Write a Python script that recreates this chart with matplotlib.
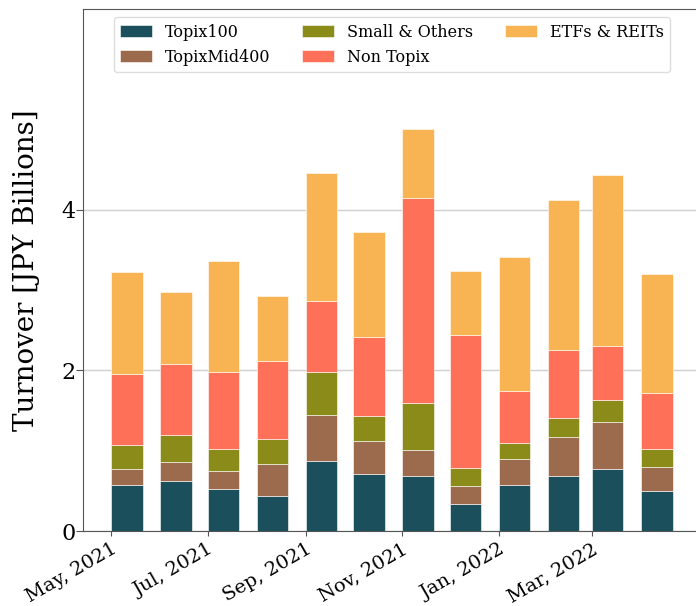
import datetime as dt
import matplotlib
matplotlib.use("Agg")
import matplotlib.pyplot as plt
import matplotlib.dates as mdates

months = [dt.datetime(2021, m, 1) for m in range(5, 13)] + \
         [dt.datetime(2022, m, 1) for m in range(1, 5)]

topix100 = [0.57, 0.62, 0.52, 0.43, 0.87, 0.71, 0.68, 0.34, 0.57, 0.69, 0.77, 0.50]
mid400 = [0.20, 0.24, 0.23, 0.40, 0.58, 0.41, 0.33, 0.22, 0.33, 0.48, 0.59, 0.30]
small = [0.30, 0.34, 0.27, 0.32, 0.53, 0.31, 0.59, 0.23, 0.20, 0.24, 0.27, 0.22]
non_topix = [0.89, 0.88, 0.96, 0.97, 0.89, 0.99, 2.55, 1.65, 0.64, 0.85, 0.67, 0.70]
etfs = [1.27, 0.90, 1.39, 0.81, 1.59, 1.30, 0.86, 0.80, 1.67, 1.86, 2.13, 1.48]

series = [
    ("Topix100", topix100, "#1c4f5c"),
    ("TopixMid400", mid400, "#9c6b4e"),
    ("Small & Others", small, "#8b8b1a"),
    ("Non Topix", non_topix, "#ff7059"),
    ("ETFs & REITs", etfs, "#f8b452"),
]

plt.rcParams["font.family"] = ["DejaVu Serif"]

fig = plt.figure(figsize=(6.96, 6.06), dpi=100)
ax = fig.add_axes([83 / 696, 1 - 531 / 606, 617.6 / 696, 521.7 / 606])

bottom = [0.0] * len(months)
for name, vals, col in series:
    ax.bar(months, vals, width=20, bottom=bottom, align="edge", color=col,
           edgecolor="white", linewidth=0.4, label=name, zorder=3)
    bottom = [b + v for b, v in zip(bottom, vals)]

ax.set_ylim(0, 6.5)
ax.set_yticks([0, 2, 4])
ax.grid(axis="y", color="#d0d0d0", linewidth=1, zorder=0)
ax.set_ylabel("Turnover [JPY Billions]", fontsize=20, labelpad=15)

ax.set_xticks(months[::2])
ax.xaxis.set_major_formatter(mdates.DateFormatter("%b, %Y"))
plt.setp(ax.get_xticklabels(), rotation=30, ha="right", rotation_mode="anchor")
ax.tick_params(axis="x", labelsize=14, colors="#555555", labelcolor="black",
               pad=3)
ax.tick_params(axis="y", labelsize=16, colors="#555555", labelcolor="black",
               length=5, pad=0.5)

for s in ax.spines.values():
    s.set_color("#555555")

ax.legend(loc="upper center", ncol=3, fontsize=11.5, framealpha=1,
          edgecolor="#dddddd")

fig.savefig("out.png", dpi=100)
